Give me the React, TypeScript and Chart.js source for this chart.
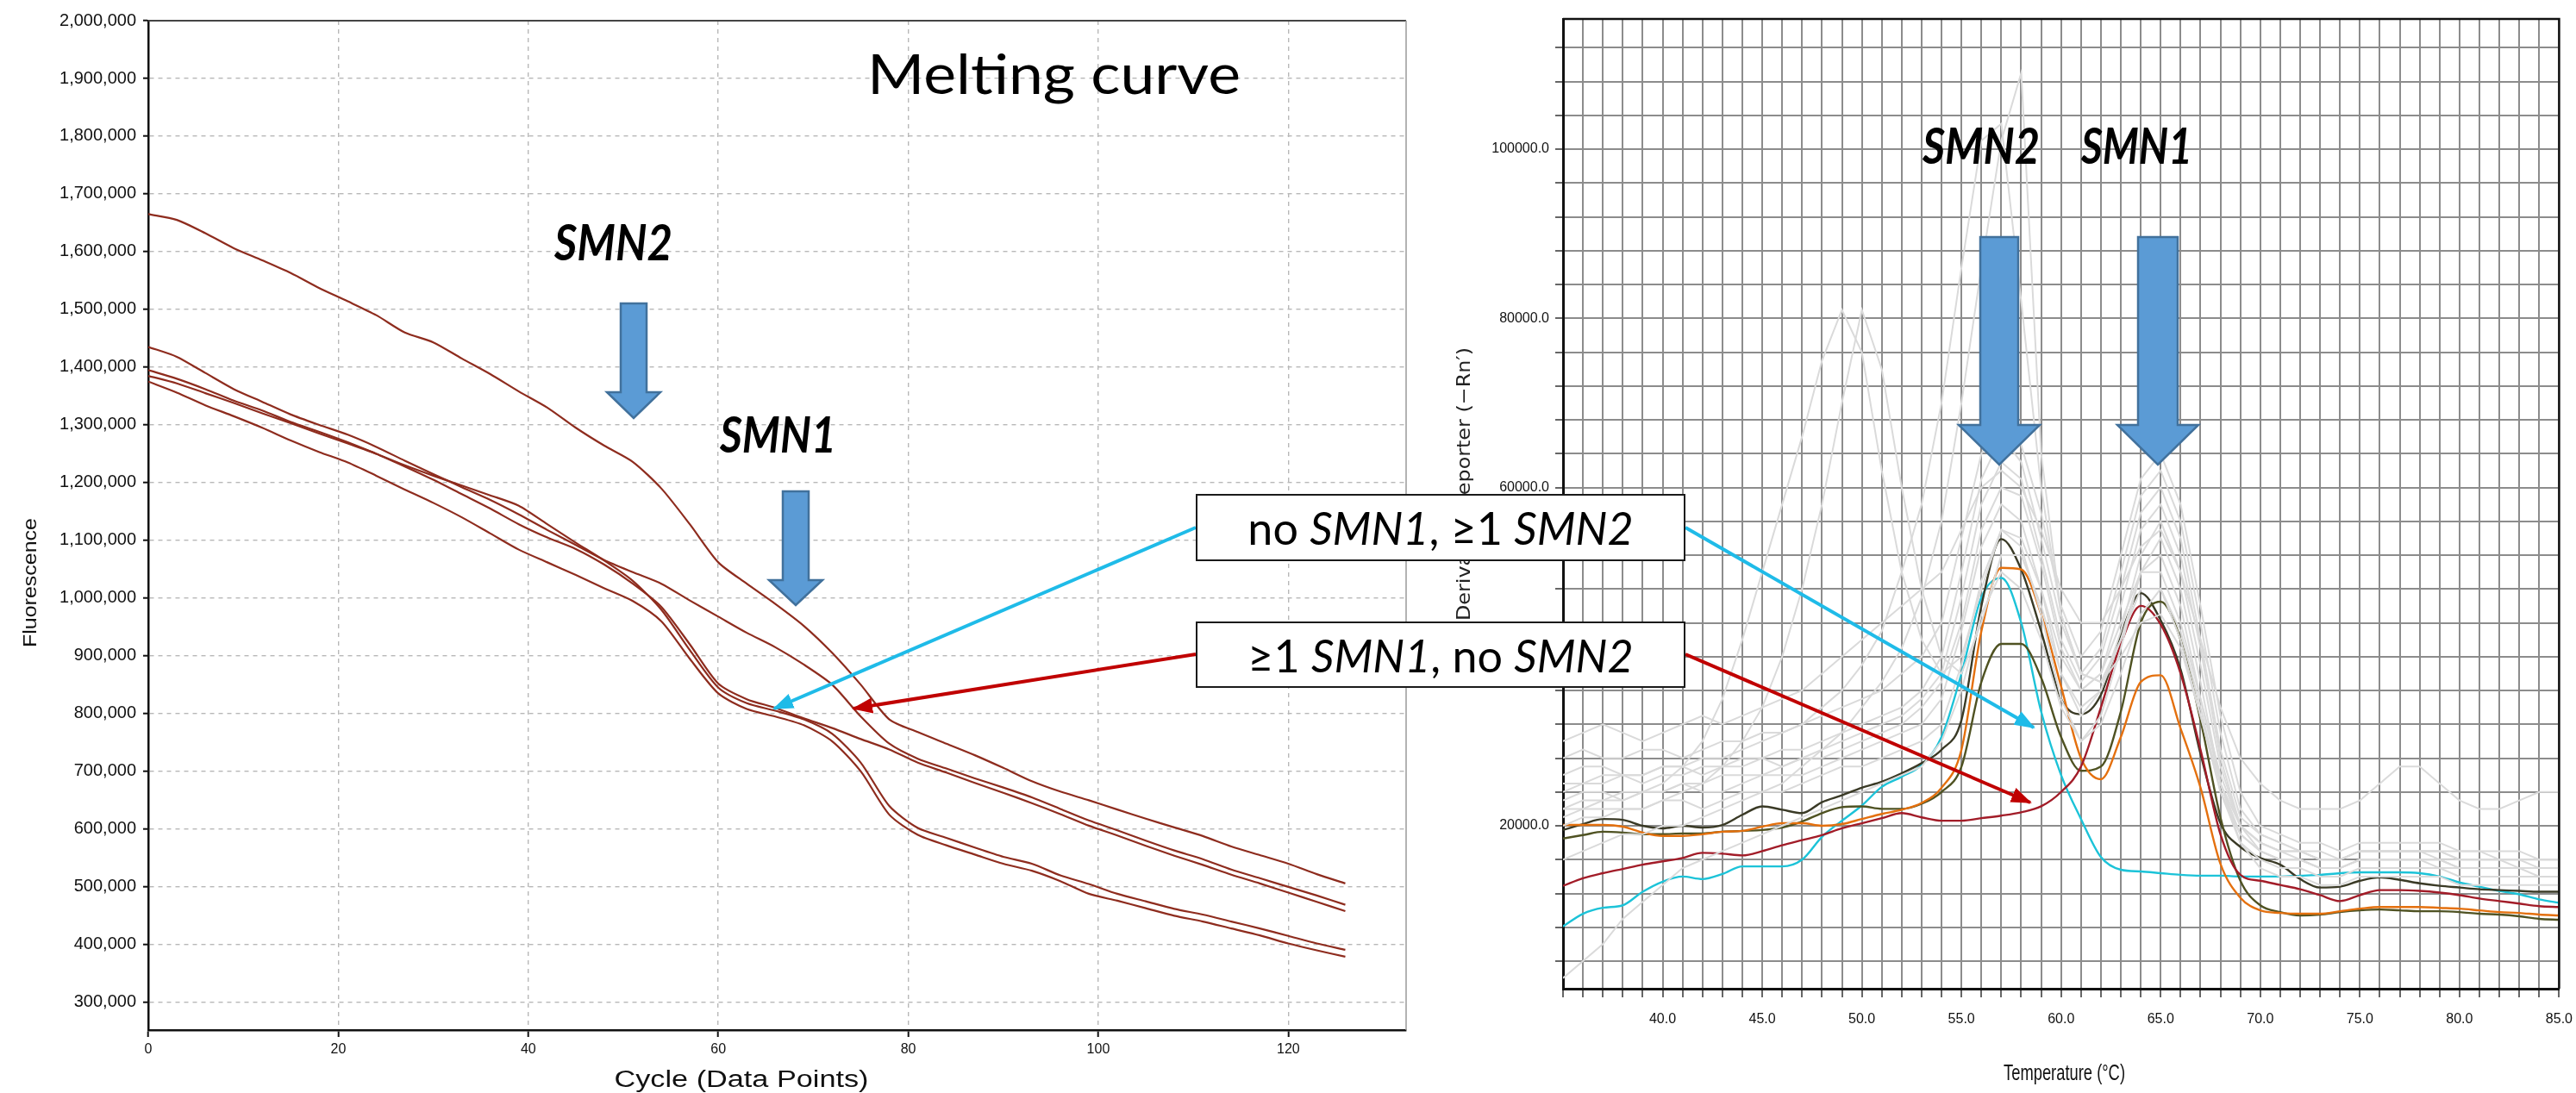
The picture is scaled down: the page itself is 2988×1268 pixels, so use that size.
import React, { useEffect, useRef } from 'react';
import { Chart, registerables } from 'chart.js';

Chart.register(...registerables);

// ---------------- Left panel: melting curves (fluorescence vs cycle) ----------------
const cycles = [0, 3, 6, 9, 12, 15, 18, 21, 24, 27, 30, 33, 36, 39, 42, 45, 48, 51, 54, 57, 60, 63, 66, 69, 72, 75, 78, 81, 84, 87, 90, 93, 96, 99, 102, 105, 108, 111, 114, 117, 120, 123, 126];

// fluorescence values in thousands
const flBothHigh = [1665, 1655, 1632, 1606, 1585, 1563, 1537, 1514, 1490, 1460, 1443, 1415, 1388, 1358, 1330, 1295, 1264, 1236, 1190, 1128, 1062, 1025, 990, 952, 905, 850, 790, 768, 748, 728, 706, 683, 665, 650, 634, 618, 603, 588, 570, 555, 540, 522, 506];
const flSmn1Only = [1435, 1418, 1390, 1362, 1340, 1318, 1300, 1283, 1262, 1238, 1215, 1192, 1170, 1145, 1118, 1092, 1066, 1045, 1025, 996, 968, 940, 915, 885, 850, 795, 748, 722, 705, 688, 672, 655, 635, 615, 598, 580, 563, 548, 530, 515, 500, 485, 469];
const flSmn2Only = [1385, 1372, 1355, 1338, 1320, 1303, 1285, 1268, 1250, 1228, 1205, 1180, 1155, 1128, 1105, 1085, 1058, 1025, 985, 920, 852, 825, 810, 792, 775, 756, 738, 715, 698, 680, 663, 645, 626, 606, 589, 571, 554, 538, 521, 506, 490, 474, 458];
const flBothMid = [1395, 1380, 1362, 1342, 1325, 1305, 1288, 1270, 1250, 1230, 1212, 1195, 1178, 1160, 1128, 1096, 1065, 1030, 980, 910, 845, 818, 805, 790, 765, 715, 640, 602, 585, 568, 552, 540, 520, 505, 488, 475, 462, 452, 440, 428, 415, 402, 391];
const flBothLow = [1375, 1356, 1334, 1315, 1295, 1273, 1253, 1235, 1212, 1188, 1165, 1140, 1112, 1084, 1062, 1040, 1017, 995, 960, 895, 835, 808, 795, 780, 752, 700, 625, 590, 572, 556, 540, 528, 510, 488, 476, 463, 450, 440, 428, 416, 402, 390, 379];

const cycleTicks = [0, 20, 40, 60, 80, 100, 120];
const fluorTicks = [300000, 400000, 500000, 600000, 700000, 800000, 900000, 1000000, 1100000, 1200000, 1300000, 1400000, 1500000, 1600000, 1700000, 1800000, 1900000, 2000000];

// ---------------- Right panel: derivative melt curves ----------------
const temps = [35, 36, 37, 38, 39, 40, 41, 42, 43, 44, 45, 46, 47, 48, 49, 50, 51, 52, 53, 54, 55, 56, 57, 58, 59, 60, 61, 62, 63, 64, 65, 66, 67, 68, 69, 70, 71, 72, 73, 74, 75, 76, 77, 78, 79, 80, 81, 82, 83, 84, 85];
const derivTicks = [4000, 8000, 12000, 16000, 20000, 24000, 28000, 32000, 36000, 40000, 44000, 48000, 52000, 56000, 60000, 64000, 68000, 72000, 76000, 80000, 84000, 88000, 92000, 96000, 100000, 104000, 108000, 112000];

// derivative values in thousands
const drvOlive = [19.5, 20.2, 20.8, 20.7, 20.0, 19.7, 20.0, 19.8, 20.1, 21.3, 22.3, 21.9, 21.5, 22.8, 23.6, 24.5, 25.2, 26.2, 27.4, 29.0, 32.5, 46.0, 53.9, 50.3, 43.0, 35.0, 33.2, 35.5, 42.6, 47.5, 44.3, 38.5, 28.5, 20.3, 17.5, 16.2, 15.4, 13.7, 12.7, 12.8, 13.5, 13.9, 13.6, 13.2, 12.9, 12.7, 12.5, 12.4, 12.3, 12.2, 12.2];
const drvGreen = [18.5, 18.9, 19.3, 19.2, 19.0, 19.0, 19.1, 19.1, 19.3, 19.4, 19.5, 19.8, 20.5, 21.5, 22.2, 22.3, 22.0, 22.0, 22.6, 24.0, 27.0, 37.0, 41.5, 41.5, 37.5, 30.5, 26.5, 27.0, 33.5, 44.0, 46.5, 42.0, 32.5, 21.0, 13.5, 10.6, 9.8, 9.4, 9.5, 9.8, 10.0, 10.1, 10.0, 9.9, 9.9, 9.8, 9.6, 9.5, 9.3, 9.0, 8.9];
const drvOrange = [20.1, 20.1, 20.1, 19.9, 19.2, 18.8, 18.8, 19.0, 19.3, 19.4, 19.9, 20.3, 20.3, 20.0, 20.2, 20.8, 21.4, 21.9, 22.7, 24.5, 29.0, 43.0, 50.5, 50.3, 45.0, 36.5, 28.0, 25.5, 30.5, 37.0, 37.8, 31.5, 24.5, 15.5, 11.5, 10.0, 9.7, 9.6, 9.6, 9.9, 10.2, 10.4, 10.4, 10.4, 10.3, 10.2, 10.0, 9.8, 9.7, 9.5, 9.4];
const drvCyan = [8.1, 9.6, 10.3, 10.6, 12.2, 13.4, 14.0, 13.7, 14.3, 15.2, 15.2, 15.2, 16.0, 18.7, 20.6, 22.4, 24.6, 25.8, 27.2, 30.5, 38.0, 47.0, 49.3, 44.0, 33.5, 26.0, 20.8, 16.3, 14.8, 14.6, 14.4, 14.2, 14.1, 14.1, 14.0, 14.0, 14.0, 14.1, 14.2, 14.4, 14.5, 14.5, 14.5, 14.4, 14.0, 13.3, 12.8, 12.3, 11.9, 11.3, 10.9];
const drvRed = [12.9, 13.8, 14.4, 14.9, 15.4, 15.8, 16.2, 16.8, 16.7, 16.5, 17.0, 17.7, 18.3, 18.9, 19.7, 20.3, 20.9, 21.5, 21.0, 20.6, 20.6, 20.9, 21.2, 21.6, 22.3, 24.0, 27.0, 34.0, 41.5, 46.0, 43.8, 38.0, 29.0, 19.0, 14.2, 13.5, 13.0, 12.5, 11.8, 11.1, 11.8, 12.4, 12.4, 12.3, 12.1, 11.8, 11.4, 11.1, 10.8, 10.5, 10.4];

// other (grey) samples, thousands
const gray1 = [26, 27, 27, 26, 26, 27, 27, 26, 27, 28, 28, 27, 28, 29, 30, 31, 32, 33, 35, 38, 47, 58, 63, 61, 52, 42, 37, 40, 48, 57, 60, 54, 42, 29, 21, 19, 18, 17, 16, 16, 17, 17, 17, 17, 16, 16, 16, 16, 15, 15, 15];
const gray2 = [23, 24, 24, 23, 24, 24, 25, 24, 24, 25, 26, 26, 26, 27, 28, 29, 30, 31, 32, 35, 43, 53, 58, 56, 48, 38, 33, 36, 43, 52, 56, 50, 39, 27, 20, 18, 17, 16, 15, 15, 16, 16, 16, 16, 15, 15, 15, 15, 15, 14, 14];
const gray3 = [28, 29, 28, 28, 29, 29, 28, 29, 30, 30, 31, 31, 32, 33, 34, 35, 36, 38, 40, 44, 54, 64, 68, 65, 57, 46, 40, 43, 52, 61, 64, 58, 46, 33, 24, 20, 19, 18, 18, 17, 18, 18, 18, 18, 18, 17, 17, 17, 17, 16, 16];
const gray4 = [21, 22, 22, 22, 22, 23, 23, 22, 23, 24, 24, 24, 25, 26, 27, 27, 28, 29, 30, 32, 39, 49, 55, 53, 45, 35, 30, 33, 41, 50, 54, 48, 37, 25, 18, 16, 15, 15, 14, 14, 15, 15, 15, 15, 15, 14, 14, 14, 14, 14, 14];
const gray5 = [16, 17, 18, 19, 19, 20, 20, 21, 22, 23, 24, 25, 27, 29, 31, 34, 37, 41, 47, 56, 70, 86, 101, 109, 64, 45, 38, 37, 40, 44, 45, 41, 33, 25, 20, 18, 17, 17, 16, 16, 17, 17, 17, 17, 17, 17, 17, 16, 16, 16, 16];
const gray6 = [24, 25, 25, 26, 26, 27, 27, 28, 28, 29, 30, 31, 32, 34, 36, 39, 43, 50, 58, 70, 86, 101, 103, 82, 60, 45, 38, 37, 42, 50, 52, 46, 35, 25, 19, 17, 16, 16, 15, 15, 16, 16, 16, 16, 16, 15, 15, 15, 15, 15, 15];
const gray7 = [22, 22, 23, 23, 24, 25, 27, 30, 35, 42, 50, 58, 66, 75, 81, 76, 62, 50, 42, 38, 40, 48, 55, 54, 48, 40, 36, 38, 44, 50, 50, 44, 35, 26, 20, 18, 17, 17, 16, 16, 17, 17, 17, 17, 17, 16, 16, 16, 16, 16, 16];
const gray8 = [20, 21, 21, 22, 22, 23, 24, 25, 27, 30, 34, 40, 48, 58, 70, 81, 74, 60, 48, 40, 38, 44, 52, 52, 46, 38, 34, 36, 42, 48, 48, 42, 33, 24, 19, 17, 16, 16, 15, 15, 16, 16, 16, 16, 16, 15, 15, 15, 15, 15, 15];
const gray9 = [2, 4, 6, 9, 11, 13, 15, 16, 17, 18, 19, 20, 21, 22, 23, 24, 25, 26, 27, 30, 36, 45, 50, 48, 42, 34, 30, 32, 38, 45, 48, 43, 34, 24, 18, 15, 14, 14, 13, 13, 14, 14, 14, 14, 14, 13, 13, 13, 13, 13, 13];
const gray10 = [30, 31, 32, 31, 30, 31, 32, 33, 32, 33, 34, 35, 36, 38, 40, 42, 44, 46, 48, 50, 55, 60, 62, 60, 55, 48, 44, 44, 48, 53, 55, 50, 42, 34, 28, 25, 23, 22, 22, 22, 23, 25, 27, 27, 25, 23, 22, 22, 23, 24, 24];
const gray11 = [25, 25, 26, 26, 25, 26, 26, 27, 27, 27, 28, 29, 29, 30, 31, 32, 33, 34, 36, 40, 50, 61, 66, 63, 54, 44, 38, 41, 50, 59, 62, 56, 44, 31, 22, 19, 18, 17, 17, 16, 17, 17, 17, 17, 17, 16, 16, 16, 16, 15, 15];
const gray12 = [22, 23, 23, 24, 24, 24, 25, 25, 26, 26, 26, 27, 28, 28, 29, 30, 31, 32, 34, 37, 44, 55, 60, 59, 51, 41, 36, 38, 46, 55, 58, 52, 41, 28, 20, 17, 16, 16, 15, 15, 16, 16, 16, 16, 16, 15, 15, 15, 15, 15, 15];

const grayCurves = [gray1, gray2, gray3, gray4, gray5, gray6, gray7, gray8, gray9, gray10, gray11, gray12];
const coloredCurves = [
  { values: drvRed, color: '#a21c28' },
  { values: drvOrange, color: '#e4700e' },
  { values: drvGreen, color: '#4f5222' },
  { values: drvOlive, color: '#3a3a26' },
  { values: drvCyan, color: '#1cc3d8' },
];
const leftCurves = [flBothHigh, flSmn1Only, flSmn2Only, flBothMid, flBothLow];

const TICK_FONT = "'Liberation Sans', Arial, sans-serif";
const LABEL_FONT = "Lato, 'Noto Sans', sans-serif";

const leftFrame = {
  id: 'leftFrame',
  afterDraw(chart: any) {
    const { ctx, chartArea: a } = chart;
    ctx.save();
    ctx.strokeStyle = '#444';
    ctx.lineWidth = 2;
    ctx.beginPath();
    ctx.moveTo(a.left, a.top);
    ctx.lineTo(a.right, a.top);
    ctx.stroke();
    ctx.strokeStyle = '#9a9a9a';
    ctx.lineWidth = 1.5;
    ctx.beginPath();
    ctx.moveTo(a.right, a.top);
    ctx.lineTo(a.right, a.bottom);
    ctx.stroke();
    ctx.restore();
  },
};

const rightFrame = {
  id: 'rightFrame',
  afterDraw(chart: any) {
    const { ctx, chartArea: a } = chart;
    ctx.save();
    ctx.strokeStyle = '#111';
    ctx.lineWidth = 2.5;
    ctx.beginPath();
    ctx.moveTo(a.left, a.top);
    ctx.lineTo(a.right, a.top);
    ctx.lineTo(a.right, a.bottom);
    ctx.stroke();
    ctx.restore();
  },
};

function arrowPoints(cx: number, shaftW: number, top: number, headY: number, headW: number, tipY: number) {
  const s = shaftW / 2;
  const h = headW / 2;
  return [
    [cx - s, top], [cx + s, top], [cx + s, headY], [cx + h, headY], [cx, tipY], [cx - h, headY], [cx - s, headY],
  ].map((p) => p.join(',')).join(' ');
}

export default function App() {
  const leftRef = useRef<HTMLCanvasElement>(null);
  const rightRef = useRef<HTMLCanvasElement>(null);

  useEffect(() => {
    const left = new Chart(leftRef.current as HTMLCanvasElement, {
      type: 'line',
      data: {
        datasets: leftCurves.map((vals) => ({
          data: cycles.map((c, i) => ({ x: c, y: vals[i] * 1000 })),
          borderColor: '#8e2c1e',
          borderWidth: 2.2,
          pointRadius: 0,
          tension: 0.25,
          fill: false,
        })),
      },
      options: {
        responsive: false,
        animation: false,
        events: [],
        layout: { padding: { left: 0, top: 24, right: 9, bottom: 0 } },
        plugins: { legend: { display: false }, tooltip: { enabled: false } },
        scales: {
          x: {
            type: 'linear',
            min: 0,
            max: 132.4,
            afterFit: (s: any) => { s.height = 73; },
            afterBuildTicks: (s: any) => { s.ticks = cycleTicks.map((v) => ({ value: v })); },
            ticks: {
              autoSkip: false,
              maxRotation: 0,
              padding: 5,
              color: '#111',
              font: { family: TICK_FONT, size: 16 },
              callback: (v: any) => String(v),
            },
            grid: { color: '#b8b8b8', lineWidth: 1.4, tickLength: 8, tickColor: '#111', tickWidth: 2 },
            border: { display: true, color: '#111', width: 2.5, dash: [5, 5] },
          },
          y: {
            type: 'linear',
            min: 252000,
            max: 2000000,
            afterFit: (s: any) => { s.width = 172; },
            afterBuildTicks: (s: any) => { s.ticks = fluorTicks.map((v) => ({ value: v })); },
            ticks: {
              autoSkip: false,
              padding: 8,
              color: '#111',
              font: { family: TICK_FONT, size: 20 },
              callback: (v: any) => Number(v).toLocaleString('en-US'),
            },
            grid: { color: '#b8b8b8', lineWidth: 1.4, tickLength: 6, tickColor: '#111', tickWidth: 2 },
            border: { display: true, color: '#111', width: 2.5, dash: [5, 5] },
          },
        },
      },
      plugins: [leftFrame],
    } as any);

    const right = new Chart(rightRef.current as HTMLCanvasElement, {
      type: 'line',
      data: {
        datasets: [
          ...grayCurves.map((vals) => ({
            data: temps.map((t, i) => ({ x: t, y: vals[i] * 1000 })),
            borderColor: '#dadada',
            borderWidth: 2,
            pointRadius: 0,
            tension: 0,
            fill: false,
          })),
          ...coloredCurves.map((c) => ({
            data: temps.map((t, i) => ({ x: t, y: c.values[i] * 1000 })),
            borderColor: c.color,
            borderWidth: 2.4,
            pointRadius: 0,
            cubicInterpolationMode: 'monotone',
            fill: false,
          })),
        ],
      },
      options: {
        responsive: false,
        animation: false,
        events: [],
        layout: { padding: { left: 0, top: 22, right: 22, bottom: 0 } },
        plugins: { legend: { display: false }, tooltip: { enabled: false } },
        scales: {
          x: {
            type: 'linear',
            min: 35,
            max: 85,
            afterFit: (s: any) => { s.height = 121; },
            afterBuildTicks: (s: any) => { s.ticks = temps.map((v) => ({ value: v })); },
            ticks: {
              autoSkip: false,
              maxRotation: 0,
              padding: 16,
              color: '#111',
              font: { family: TICK_FONT, size: 16 },
              callback: (v: any) => (v % 5 === 0 && v > 35 ? Number(v).toFixed(1) : ''),
            },
            grid: { color: '#8c8c8c', lineWidth: 2, tickLength: 10, tickColor: '#666', tickWidth: 2 },
            border: { display: true, color: '#111', width: 3 },
          },
          y: {
            type: 'linear',
            min: 740,
            max: 115390,
            afterFit: (s: any) => { s.width = 173; },
            afterBuildTicks: (s: any) => { s.ticks = derivTicks.map((v) => ({ value: v })); },
            ticks: {
              autoSkip: false,
              padding: 7,
              color: '#111',
              font: { family: TICK_FONT, size: 16 },
              callback: (v: any) => (v % 20000 === 0 ? Number(v).toFixed(1) : ''),
            },
            grid: { color: '#8c8c8c', lineWidth: 2, tickLength: 9, tickColor: '#666', tickWidth: 2 },
            border: { display: true, color: '#111', width: 3 },
          },
        },
      },
      plugins: [rightFrame],
    } as any);

    return () => {
      left.destroy();
      right.destroy();
    };
  }, []);

  const boxStyle: React.CSSProperties = {
    position: 'absolute',
    left: 1387,
    width: 568,
    boxSizing: 'border-box',
    border: '2px solid #1a1a1a',
    background: '#fff',
    display: 'flex',
    alignItems: 'center',
    justifyContent: 'center',
    fontFamily: LABEL_FONT,
    fontSize: 52,
    color: '#000',
    whiteSpace: 'pre',
  };

  const BLUE_FILL = '#5b9bd5';
  const BLUE_EDGE = '#41719c';
  const CYAN = '#1fbbe8';
  const RED = '#c00000';

  return (
    <div style={{ position: 'absolute', left: 0, top: 0, width: 2988, height: 1268, overflow: 'hidden', background: '#fff' }}>
      <canvas ref={leftRef} width={1640} height={1268} style={{ position: 'absolute', left: 0, top: 0 }} />
      <canvas ref={rightRef} width={1360} height={1268} style={{ position: 'absolute', left: 1640, top: 0 }} />
      <svg width={2988} height={1268} style={{ position: 'absolute', left: 0, top: 0 }}>
        <defs>
          <marker id="headBlue" markerUnits="userSpaceOnUse" markerWidth="26" markerHeight="22" refX="22" refY="11" orient="auto">
            <path d="M0,2 L24,11 L0,20 z" fill={CYAN} />
          </marker>
          <marker id="headRed" markerUnits="userSpaceOnUse" markerWidth="26" markerHeight="22" refX="22" refY="11" orient="auto">
            <path d="M0,2 L24,11 L0,20 z" fill={RED} />
          </marker>
        </defs>

        {/* axis titles */}
        <text x={34} y={676} transform="rotate(-90 34 676)" textAnchor="middle" dominantBaseline="central" fontFamily={TICK_FONT} fontSize={22} fill="#111" textLength={150} lengthAdjust="spacingAndGlyphs">Fluorescence</text>
        <text x={860} y={1261} textAnchor="middle" fontFamily={TICK_FONT} fontSize={27} fill="#111" textLength={295} lengthAdjust="spacingAndGlyphs">Cycle (Data Points)</text>
        <text x={2324} y={1253} fontFamily={TICK_FONT} fontSize={25} fill="#111" textLength={141} lengthAdjust="spacingAndGlyphs">Temperature (°C)</text>
        <text x={1705} y={720} transform="rotate(-90 1705 720)" fontFamily="'DejaVu Sans', sans-serif" fontSize={21} fill="#222" textLength={317} lengthAdjust="spacingAndGlyphs">Derivative Reporter (−Rn′)</text>

        {/* titles & gene labels */}
        <text x={1006} y={109} fontFamily={LABEL_FONT} fontSize={64} fill="#000" textLength={433} lengthAdjust="spacingAndGlyphs">Melting curve</text>
        <text x={643} y={302} fontFamily={LABEL_FONT} fontSize={58} fontWeight="bold" fontStyle="italic" fill="#000" textLength={137} lengthAdjust="spacingAndGlyphs">SMN2</text>
        <text x={835} y={525} fontFamily={LABEL_FONT} fontSize={58} fontWeight="bold" fontStyle="italic" fill="#000" textLength={135} lengthAdjust="spacingAndGlyphs">SMN1</text>
        <text x={2230} y={190} fontFamily={LABEL_FONT} fontSize={58} fontWeight="bold" fontStyle="italic" fill="#000" textLength={136} lengthAdjust="spacingAndGlyphs">SMN2</text>
        <text x={2414} y={190} fontFamily={LABEL_FONT} fontSize={58} fontWeight="bold" fontStyle="italic" fill="#000" textLength={129} lengthAdjust="spacingAndGlyphs">SMN1</text>

        {/* block arrows */}
        <polygon points={arrowPoints(735, 30, 352, 455, 62, 485)} fill={BLUE_FILL} stroke={BLUE_EDGE} strokeWidth={2.5} strokeLinejoin="miter" />
        <polygon points={arrowPoints(923, 30, 570, 673, 62, 702)} fill={BLUE_FILL} stroke={BLUE_EDGE} strokeWidth={2.5} strokeLinejoin="miter" />
        <polygon points={arrowPoints(2319, 44, 275, 493, 94, 539)} fill={BLUE_FILL} stroke={BLUE_EDGE} strokeWidth={2.5} strokeLinejoin="miter" />
        <polygon points={arrowPoints(2503, 46, 275, 493, 94, 539)} fill={BLUE_FILL} stroke={BLUE_EDGE} strokeWidth={2.5} strokeLinejoin="miter" />

        {/* connectors */}
        <line x1={1387} y1={612} x2={898} y2={822} stroke={CYAN} strokeWidth={4} markerEnd="url(#headBlue)" />
        <line x1={1955} y1={612} x2={2359} y2={844} stroke={CYAN} strokeWidth={4} markerEnd="url(#headBlue)" />
        <line x1={1387} y1={759} x2={990} y2={822} stroke={RED} strokeWidth={4} markerEnd="url(#headRed)" />
        <line x1={1955} y1={759} x2={2355} y2={931} stroke={RED} strokeWidth={4} markerEnd="url(#headRed)" />
      </svg>

      <div style={{ ...boxStyle, top: 573, height: 78 }}>
        {'no '}<i>SMN1</i>{', ≥1 '}<i>SMN2</i>
      </div>
      <div style={{ ...boxStyle, top: 721, height: 77 }}>
        {'≥1 '}<i>SMN1</i>{', no '}<i>SMN2</i>
      </div>
    </div>
  );
}
